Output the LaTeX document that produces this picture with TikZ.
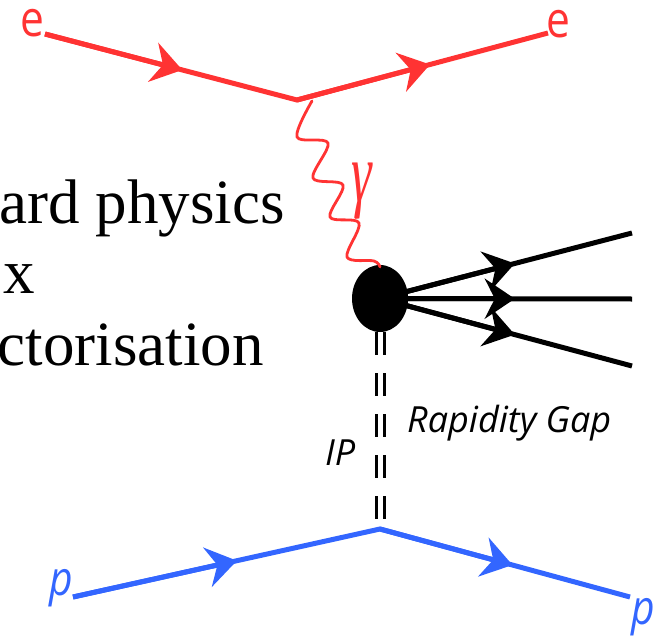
\documentclass[tikz,border=0pt]{standalone}
\usepackage{fontspec}
\setmainfont{Liberation Serif}
\newfontfamily\lblfont[FakeStretch=0.85]{Open Sans}
\newfontfamily\gapfont{Open Sans}
\usetikzlibrary{arrows.meta,calc,shapes.geometric}
\definecolor{ered}{RGB}{255,51,51}
\definecolor{pblue}{RGB}{51,102,255}
\tikzset{
  fline/.style={line width=5pt},
  farrow/.style={line width=5pt, -{Stealth[length=30pt 0,width=40pt 0,inset=10pt 0]}},
  pomeron/.style={black, line width=3pt, dash pattern=on 23pt off 18pt},
  bigtext/.style={inner sep=0pt, font=\fontsize{63}{70}\selectfont},
  lbl/.style={inner sep=0pt, font=\lblfont\fontsize{50}{56}\selectfont},
  plbl/.style={inner sep=0pt, font=\lblfont\itshape\fontsize{48}{54}\selectfont},
  gaplbl/.style={inner sep=0pt, font=\gapfont\itshape\fontsize{36}{40}\selectfont},
}
\begin{document}
\begin{tikzpicture}[x=1pt,y=-1pt]
\useasboundingbox (0,0) rectangle (662,637);
\clip (0,0) rectangle (662,637);

% vertices and ends
\coordinate (v1) at (297,100);
\coordinate (ein) at (45,34);
\coordinate (eout) at (548,33);
\coordinate (pin) at (73,597);
\coordinate (v3) at (380,529);
\coordinate (pout) at (630,597);
\coordinate (j1) at (632,233);
\coordinate (j2) at (632,299);
\coordinate (j3) at (632,366);
\coordinate (bc) at (380,298.5);

% arrow tip positions
\coordinate (a1) at ($(ein)!0.545!(v1)$);
\coordinate (a2) at ($(v1)!0.53!(eout)$);
\coordinate (a3) at ($(pin)!0.534!(v3)$);
\coordinate (a4) at ($(v3)!0.53!(pout)$);
\coordinate (b1) at ($(bc)!0.535!(j1)$);
\coordinate (b2) at ($(bc)!0.535!(j2)$);
\coordinate (b3) at ($(bc)!0.535!(j3)$);

% labels
\node[lbl, ered] (le) at (32.5,23) {e};
\node[lbl, ered] (re) at (558,24) {e};
\node[plbl, pblue] (lp) at (61.5,588.5) {p};
\node[plbl, pblue] (rp) at (643.5,617) {p};
\node[ered, inner sep=0pt, font=\fontsize{84}{90}\selectfont] (gam) at (362,191) {\scalebox{0.62}[1]{\itshape γ}};
\node[gaplbl, anchor=base west] (gap) at (407,432) {Rapidity Gap};
\node[gaplbl, anchor=base west] (ip) at (325,465) {IP};

% left text
\node[bigtext, anchor=base east] (t1) at (285,223) {ard physics};
\node[bigtext, anchor=base west] (t2) at (3,293) {x};
\node[bigtext, anchor=base east] (t3) at (264,365) {ctorisation};

% electron lines
\draw[ered, fline] (ein) -- (v1) -- (eout);
\draw[ered, farrow] (ein) -- (a1);
\draw[ered, farrow] (v1) -- (a2);

% proton lines
\draw[pblue, fline] (pin) -- (v3) -- (pout);
\draw[pblue, farrow] (pin) -- (a3);
\draw[pblue, farrow] (v3) -- (a4);

% jets
\foreach \j/\b in {j1/b1, j2/b2, j3/b3} {
  \draw[black, fline] (bc) -- (\j);
  \draw[black, farrow] (bc) -- (\b);
}
\node[ellipse, fill=black, minimum width=56pt, minimum height=67pt, inner sep=0pt] (blob) at (bc) {};

% photon
\draw[ered, line width=2.8pt, line join=round, line cap=round]
  plot[smooth, tension=0.55] coordinates {(312,101) (297,137) (328,143) (313,178) (343,185) (330,217) (359,223) (347,257) (374,261) (380,267)};

% pomeron
\draw[pomeron] ([xshift=-4pt]blob.south) -- ([xshift=-4pt]v3);
\draw[pomeron] ([xshift=4pt]blob.south) -- ([xshift=4pt]v3);
\end{tikzpicture}
\end{document}
